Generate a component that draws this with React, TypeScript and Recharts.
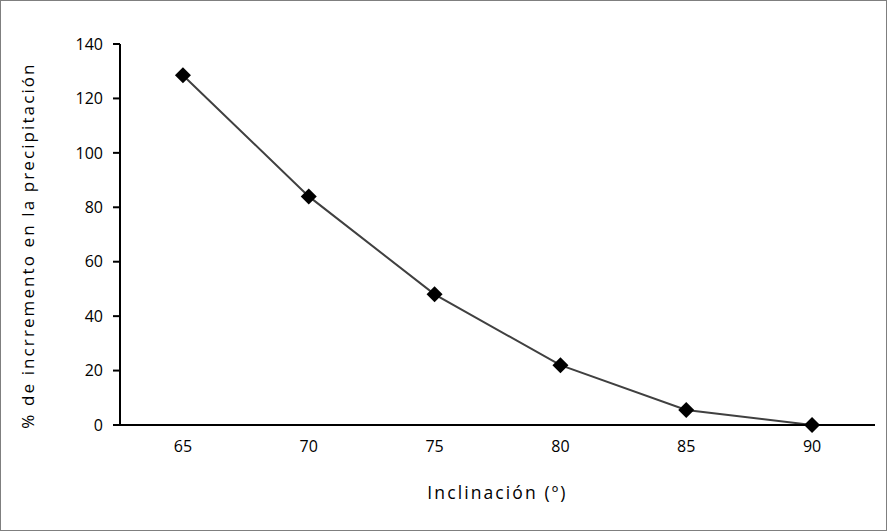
import React from 'react';
import {
  LineChart,
  Line,
  XAxis,
  YAxis,
} from 'recharts';

const inclinations = [65, 70, 75, 80, 85, 90];
const increments = [128.5, 84, 48, 22, 5.5, 0];
const yTicks = [0, 20, 40, 60, 80, 100, 120, 140];
const bandEdges = [62.5, 67.5, 72.5, 77.5, 82.5, 87.5, 92.5];

const data = inclinations.map((x, i) => ({ x, value: increments[i] }));

const FONT = '"Open Sans", sans-serif';

const Diamond = (props: any) => {
  const { cx, cy } = props;
  if (cx == null || cy == null) return null;
  const r = 8;
  return (
    <path
      d={`M${cx},${cy - r} L${cx + r},${cy} L${cx},${cy + r} L${cx - r},${cy} Z`}
      fill="#000"
    />
  );
};

const App = () => {
  return (
    <div style={{ position: 'relative', width: 887, height: 531, boxSizing: 'border-box', border: '1px solid #7f7f7f', background: '#fff' }}>
      <style>{`body { margin: 0; }`}</style>
      <LineChart
        width={885}
        height={529}
        data={data}
        margin={{ top: 43, right: 11, bottom: 31, left: 19 }}
        style={{ fontFamily: FONT }}
      >
        <XAxis
          xAxisId="edges"
          dataKey="x"
          type="number"
          domain={[62.5, 92.5]}
          ticks={bandEdges}
          tick={false}
          tickSize={6}
          height={1}
          stroke="#000"
          strokeWidth={2}
          allowDataOverflow
        />
        <XAxis
          xAxisId="labels"
          dataKey="x"
          type="number"
          domain={[62.5, 92.5]}
          ticks={inclinations}
          axisLine={false}
          tickLine={false}
          tickSize={0}
          tickMargin={15}
          height={73}
          tick={{ fill: '#000', fontSize: 16 }}
          label={{
            value: 'Inclinación (º)',
            position: 'insideBottom',
            offset: 0,
            fill: '#000',
            fontSize: 17.5,
            letterSpacing: 2.1,
          }}
          allowDataOverflow
        />
        <YAxis
          domain={[0, 140]}
          ticks={yTicks}
          width={100}
          tickSize={7}
          tickMargin={10}
          stroke="#000"
          strokeWidth={2}
          tick={{ fill: '#000', fontSize: 16 }}
          label={{
            value: '% de incrremento en la precipitación',
            angle: -90,
            position: 'insideLeft',
            offset: 8,
            dy: 11,
            fill: '#000',
            fontSize: 17,
            letterSpacing: 2.1,
            style: { textAnchor: 'middle' },
          }}
        />
        <Line
          xAxisId="labels"
          dataKey="value"
          stroke="#404040"
          strokeWidth={2}
          dot={<Diamond />}
          activeDot={false}
          isAnimationActive={false}
        />
      </LineChart>
    </div>
  );
};

export default App;
